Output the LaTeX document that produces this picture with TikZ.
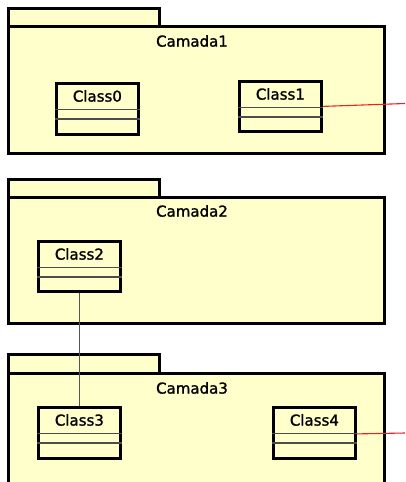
\documentclass[tikz,border=0pt]{standalone}
\usepackage{fontspec}
\setmainfont{DejaVu Sans}
\newfontfamily\umlfont[FakeBold=1.4]{DejaVu Sans}
\definecolor{pkgfill}{HTML}{FFFFCC}
\definecolor{linkgray}{HTML}{555555}
\definecolor{linkred}{HTML}{F02020}
\tikzset{
  pkgshape/.style={draw=black, fill=pkgfill, line width=2.8pt, inner sep=0pt, anchor=north west},
  classbox/.style={draw=black, fill=pkgfill, line width=2.8pt, inner sep=0pt, anchor=north west},
  classname/.style={font=\umlfont\fontsize{15}{18}\selectfont, inner sep=0pt},
  pkgname/.style={font=\umlfont\fontsize{15}{18}\selectfont, inner sep=0pt},
  sepline/.style={draw=black!70, line width=1.3pt},
  graylink/.style={draw=linkgray, line width=1.8pt},
  redlink/.style={draw=linkred, line width=1.1pt}
}
% UML class box: name, left, top, width, height, title
\newcommand{\umlclass}[6]{%
  \node[classbox, minimum width=#4pt, minimum height=#5pt] (#1) at (#2,#3) {};
  \node[classname] at ([yshift=-14pt]#1.north) {#6};
  \draw[sepline] ([yshift=-27.5pt]#1.north west) -- ([yshift=-27.5pt]#1.north east);
  \draw[sepline] ([yshift=-37pt]#1.north west) -- ([yshift=-37pt]#1.north east);
}
\begin{document}
\begin{tikzpicture}[x=1pt, y=-1pt]
  \useasboundingbox (0,0) rectangle (405,482);
  \clip (0,0) rectangle (405,482);
  \fill[white] (0,0) rectangle (405,482);

  % Package Camada1
  \node[pkgshape, minimum width=151pt, minimum height=18pt] (tab1) at (7,7) {};
  \node[pkgshape, minimum width=376pt, minimum height=127pt] (cam1) at (7,25) {};
  \node[pkgname] at (192,41) {Camada1};

  % Package Camada2
  \node[pkgshape, minimum width=151pt, minimum height=18pt] (tab2) at (7,178) {};
  \node[pkgshape, minimum width=376pt, minimum height=126pt] (cam2) at (7,196) {};
  \node[pkgname] at (192,211) {Camada2};

  % Package Camada3 (runs past the lower edge)
  \node[pkgshape, minimum width=151pt, minimum height=19pt] (tab3) at (7,353) {};
  \node[pkgshape, minimum width=376pt, minimum height=140pt] (cam3) at (7,372) {};
  \node[pkgname] at (192,388) {Camada3};

  % Classes
  \umlclass{c0}{55}{82}{82}{51}{Class0}
  \umlclass{c1}{238}{80}{82}{50}{Class1}
  \umlclass{c2}{37}{240}{82}{50}{Class2}
  \umlclass{c3}{37}{406}{82}{51}{Class3}
  \umlclass{c4}{272}{406}{82}{51}{Class4}

  % Connectors
  \coordinate (out1) at (405,103.5);
  \coordinate (out4) at (405,433);
  \draw[redlink] (c1.east) -- (out1);
  \draw[redlink] ([yshift=-1pt]c4.east) -- (out4);
  \draw[graylink] (c2.south) -- (c3.north);
\end{tikzpicture}
\end{document}
